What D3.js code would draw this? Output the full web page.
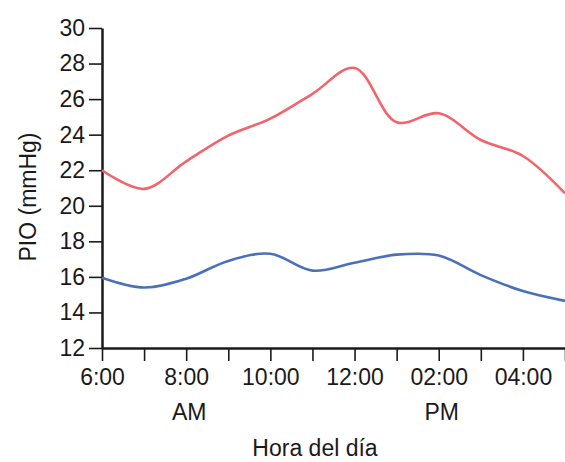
<!DOCTYPE html>
<html>
<head>
<meta charset="utf-8">
<script src="https://cdn.jsdelivr.net/npm/d3@7"></script>
<style>
  html, body { margin: 0; padding: 0; background: #fff; }
  svg { display: block; font-family: "Liberation Sans", Arial, sans-serif; }
</style>
</head>
<body>
<div id="chart"></div>
<script>
// Data (hour of day, IOP in mmHg)
const hours = [6, 7, 8, 9, 10, 11, 12, 13, 14, 15, 16, 17];
const redValues = [22.0, 20.95, 22.5, 23.95, 24.9, 26.3, 27.75, 24.7, 25.2, 23.7, 22.8, 20.7];
const blueValues = [15.95, 15.4, 15.9, 16.9, 17.3, 16.35, 16.8, 17.25, 17.2, 16.1, 15.2, 14.65];
const yTicks = [12, 14, 16, 18, 20, 22, 24, 26, 28, 30];
const xTickLabels = ["6:00", "", "8:00", "", "10:00", "", "12:00", "", "02:00", "", "04:00", ""];
const periodLabels = [[8, "AM"], [14, "PM"]];

const width = 565;
const height = 462;
const margin = ({ top: 28, right: 0, bottom: 114, left: 102 });

const x = d3.scaleLinear([6, 17], [margin.left, width - margin.right]);
const y = d3.scaleLinear([12, 30], [height - margin.bottom, margin.top]);

const svg = d3.select("#chart")
  .append("svg")
  .attr("width", width)
  .attr("height", height);

// y axis
const gy = svg.append("g")
  .attr("transform", `translate(${margin.left},0)`)
  .call(d3.axisLeft(y).tickValues(yTicks).tickSize(13).tickPadding(4).tickSizeOuter(0));

// x axis
const gx = svg.append("g")
  .attr("transform", `translate(0,${height - margin.bottom})`)
  .call(d3.axisBottom(x).tickValues(hours).tickSize(13).tickPadding(8).tickSizeOuter(0)
    .tickFormat((d, i) => xTickLabels[i]));

[gx, gy].forEach(g => {
  g.select(".domain").attr("stroke", "#1a1a1a").attr("stroke-width", 2.5);
  g.selectAll(".tick line").attr("stroke", "#1a1a1a").attr("stroke-width", 1.6);
  g.selectAll(".tick text")
    .attr("fill", "#1a1a1a")
    .style("font-size", "23px")
    .style("font-family", "'Liberation Sans', Arial, sans-serif");
});

// AM / PM labels
svg.append("g")
  .selectAll("text")
  .data(periodLabels)
  .join("text")
  .attr("x", d => x(d[0]) + 3)
  .attr("y", 420)
  .attr("text-anchor", "middle")
  .attr("fill", "#1a1a1a")
  .style("font-size", "23px")
  .text(d => d[1]);

// axis titles
svg.append("text")
  .attr("x", 315)
  .attr("y", 456)
  .attr("text-anchor", "middle")
  .attr("fill", "#1a1a1a")
  .style("font-size", "23px")
  .text("Hora del día");

svg.append("text")
  .attr("transform", "translate(36,197) rotate(-90)")
  .attr("text-anchor", "middle")
  .attr("fill", "#1a1a1a")
  .style("font-size", "23px")
  .text("PIO (mmHg)");

// lines
const line = d3.line()
  .x(d => x(d[0]))
  .y(d => y(d[1]))
  .curve(d3.curveCatmullRom);

svg.append("path")
  .datum(d3.zip(hours, redValues))
  .attr("fill", "none")
  .attr("stroke", "#f2636a")
  .attr("stroke-width", 2.6)
  .attr("d", line);

svg.append("path")
  .datum(d3.zip(hours, blueValues))
  .attr("fill", "none")
  .attr("stroke", "#4a70bd")
  .attr("stroke-width", 2.6)
  .attr("d", line);
</script>
</body>
</html>
